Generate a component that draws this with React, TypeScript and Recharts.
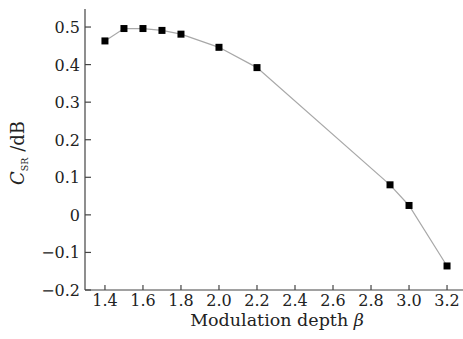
import React from 'react';
import { LineChart, Line, XAxis, YAxis } from 'recharts';

const depth = [1.4, 1.5, 1.6, 1.7, 1.8, 2.0, 2.2, 2.9, 3.0, 3.2];
const csr = [0.463, 0.496, 0.496, 0.491, 0.481, 0.446, 0.392, 0.08, 0.025, -0.136];
const xTicks = [1.4, 1.6, 1.8, 2.0, 2.2, 2.4, 2.6, 2.8, 3.0, 3.2];
const yTicks = [-0.2, -0.1, 0, 0.1, 0.2, 0.3, 0.4, 0.5];

const data = depth.map((d, i) => ({ depth: d, csr: csr[i] }));

const FONT = '"DejaVu Serif", serif';
const AXIS = '#444';

const fmtY = (v: number) => (v === 0 ? '0' : v < 0 ? '\u2212' + Math.abs(v).toFixed(1) : v.toFixed(1));

const YTick = (props: any) => {
  const { x, y, payload } = props;
  return (
    <g>
      <line x1={x} y1={y} x2={x + 6} y2={y} stroke={AXIS} strokeWidth={1.2} />
      <text x={x - 5} y={y} dy={6} textAnchor="end" fontFamily={FONT} fontSize={16} fill="#222">
        {fmtY(payload.value)}
      </text>
    </g>
  );
};

const XTick = (props: any) => {
  const { x, y, payload } = props;
  return (
    <g>
      <line x1={x} y1={y} x2={x} y2={y - 5} stroke={AXIS} strokeWidth={1.2} />
      <text x={x} y={y} dy={16} textAnchor="middle" fontFamily={FONT} fontSize={16} fill="#222">
        {payload.value.toFixed(1)}
      </text>
    </g>
  );
};

const SquareDot = (props: any) => {
  const { cx, cy } = props;
  if (cx == null || cy == null) return null;
  return <rect x={cx - 3.5} y={cy - 3.5} width={7} height={7} fill="#000" />;
};

export default function App() {
  return (
    <div style={{ position: 'absolute', left: 0, top: 0, background: '#fff' }}>
      <LineChart width={463} height={339} data={data} margin={{ top: 9, right: 0, bottom: 0, left: 0 }}>
        <XAxis
          dataKey="depth"
          type="number"
          domain={[1.295, 3.284]}
          ticks={xTicks}
          allowDataOverflow
          height={49}
          tickSize={0}
          tickMargin={0}
          tickLine={false}
          tick={<XTick />}
          stroke={AXIS}
          strokeWidth={1.2}
          interval={0}
        />
        <YAxis
          type="number"
          domain={[-0.2, 0.548]}
          ticks={yTicks}
          allowDataOverflow
          width={85}
          tickSize={0}
          tickMargin={0}
          tickLine={false}
          tick={<YTick />}
          stroke={AXIS}
          strokeWidth={1.2}
          interval={0}
        />
        <Line
          dataKey="csr"
          stroke="#a8a8a8"
          strokeWidth={1.2}
          dot={<SquareDot />}
          activeDot={false}
          isAnimationActive={false}
        />
        <text x={277} y={326} textAnchor="middle" fontFamily={FONT} fontSize={17.5} fill="#222">
          Modulation depth <tspan fontStyle="italic">β</tspan>
        </text>
        <text
          transform="translate(24,153) rotate(-90)"
          textAnchor="middle"
          fontFamily={FONT}
          fontSize={18}
          fill="#222"
        >
          <tspan fontStyle="italic">C</tspan>
          <tspan fontSize={9.5} dy={4}>SR</tspan>
          <tspan dy={-4}> /dB</tspan>
        </text>
      </LineChart>
    </div>
  );
}
